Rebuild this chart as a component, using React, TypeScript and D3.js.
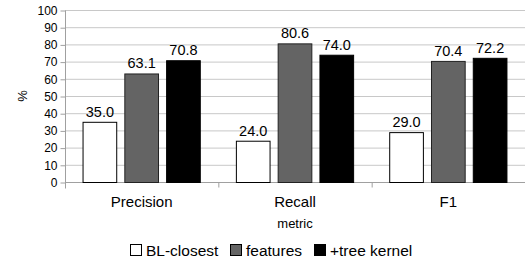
import { useEffect, useRef } from "react";
import * as d3 from "d3";

const categories = ["Precision", "Recall", "F1"];
const seriesNames = ["BL-closest", "features", "+tree kernel"];
const blClosest = [35.0, 24.0, 29.0];
const features = [63.1, 80.6, 70.4];
const treeKernel = [70.8, 74.0, 72.2];
const yTicks = [0, 10, 20, 30, 40, 50, 60, 70, 80, 90, 100];

const colors = ["#ffffff", "#646464", "#000000"];

export default function App() {
  const ref = useRef<SVGSVGElement | null>(null);

  useEffect(() => {
    if (!ref.current) return;
    const svg = d3.select(ref.current);
    svg.selectAll("*").remove();

    const left = 65;
    const right = 525;
    const top = 10;
    const bottom = 182;
    const font = "Liberation Sans, Arial, sans-serif";
    const series = [blClosest, features, treeKernel];

    const x = d3.scaleBand().domain(categories).range([left, right]).paddingInner(0).paddingOuter(0);
    const inner = d3
      .scaleBand()
      .domain(seriesNames)
      .range([0, x.bandwidth()])
      .paddingInner(0.17)
      .paddingOuter(0.42);
    const y = d3.scaleLinear().domain([0, 100]).range([bottom, top]);

    // gridlines
    svg
      .append("g")
      .selectAll("line")
      .data(yTicks.filter((t) => t > 0))
      .join("line")
      .attr("x1", left)
      .attr("x2", right)
      .attr("y1", (d) => y(d) + 0.5)
      .attr("y2", (d) => y(d) + 0.5)
      .attr("stroke", "#c8c8c8")
      .attr("stroke-width", 1);

    // y axis
    const yAxis = svg
      .append("g")
      .attr("transform", `translate(${left + 0.5},0.5)`)
      .call(
        d3
          .axisLeft(y)
          .tickValues(yTicks)
          .tickSize(5)
          .tickPadding(3)
          .tickFormat((d) => String(d))
      );
    yAxis.selectAll(".tick line").attr("stroke", "#a0a0a0");
    yAxis
      .selectAll(".tick text")
      .attr("fill", "#000")
      .style("font-family", font)
      .style("font-size", "12px");
    yAxis.select(".domain").attr("stroke", "#a0a0a0").attr("d", `M0,${top}V${bottom + 6}`);

    // x axis
    const xAxisG = svg.append("g").attr("transform", `translate(0,${bottom + 0.5})`);
    xAxisG
      .append("line")
      .attr("x1", left)
      .attr("x2", right)
      .attr("stroke", "#a0a0a0");
    xAxisG
      .selectAll("line.tk")
      .data(categories.slice(1))
      .join("line")
      .attr("class", "tk")
      .attr("x1", (d) => (x(d) as number) + 0.5)
      .attr("x2", (d) => (x(d) as number) + 0.5)
      .attr("y1", 0)
      .attr("y2", 5)
      .attr("stroke", "#a0a0a0");
    xAxisG
      .selectAll("text")
      .data(categories)
      .join("text")
      .attr("x", (d) => (x(d) as number) + x.bandwidth() / 2)
      .attr("y", 24)
      .attr("text-anchor", "middle")
      .style("font-family", font)
      .style("font-size", "15px")
      .text((d) => d);

    // bars
    series.forEach((vals, si) => {
      const g = svg.append("g");
      g.selectAll("rect")
        .data(vals)
        .join("rect")
        .attr("x", (_, i) => (x(categories[i]) as number) + (inner(seriesNames[si]) as number) + 0.5)
        .attr("y", (d) => y(d) + 0.5)
        .attr("width", inner.bandwidth() - 1)
        .attr("height", (d) => bottom - y(d))
        .attr("fill", colors[si])
        .attr("stroke", si === 1 ? "#222" : "#000")
        .attr("stroke-width", 1);
      g.selectAll("text")
        .data(vals)
        .join("text")
        .attr("x", (_, i) => (x(categories[i]) as number) + (inner(seriesNames[si]) as number) + inner.bandwidth() / 2)
        .attr("y", (d) => y(d) - 5)
        .attr("text-anchor", "middle")
        .style("font-family", font)
        .style("font-size", "14.5px")
        .text((d) => d.toFixed(1));
    });

    // axis titles
    svg
      .append("text")
      .attr("transform", `translate(27,${(top + bottom) / 2}) rotate(-90)`)
      .attr("text-anchor", "middle")
      .style("font-family", font)
      .style("font-size", "13px")
      .text("%");
    svg
      .append("text")
      .attr("x", (left + right) / 2)
      .attr("y", 228)
      .attr("text-anchor", "middle")
      .style("font-family", font)
      .style("font-size", "13px")
      .text("metric");

    // legend
    const legendX = [130, 230, 314];
    const lg = svg.append("g");
    seriesNames.forEach((name, i) => {
      lg.append("rect")
        .attr("x", legendX[i] + 0.5)
        .attr("y", 244.5)
        .attr("width", 11)
        .attr("height", 11)
        .attr("fill", colors[i])
        .attr("stroke", "#000");
      lg.append("text")
        .attr("x", legendX[i] + 16)
        .attr("y", 256)
        .style("font-family", font)
        .style("font-size", "15.5px")
        .text(name);
    });
  }, []);

  return (
    <svg
      ref={ref}
      width={529}
      height={264}
      style={{ position: "absolute", left: 0, top: 0, background: "#fff" }}
    />
  );
}
